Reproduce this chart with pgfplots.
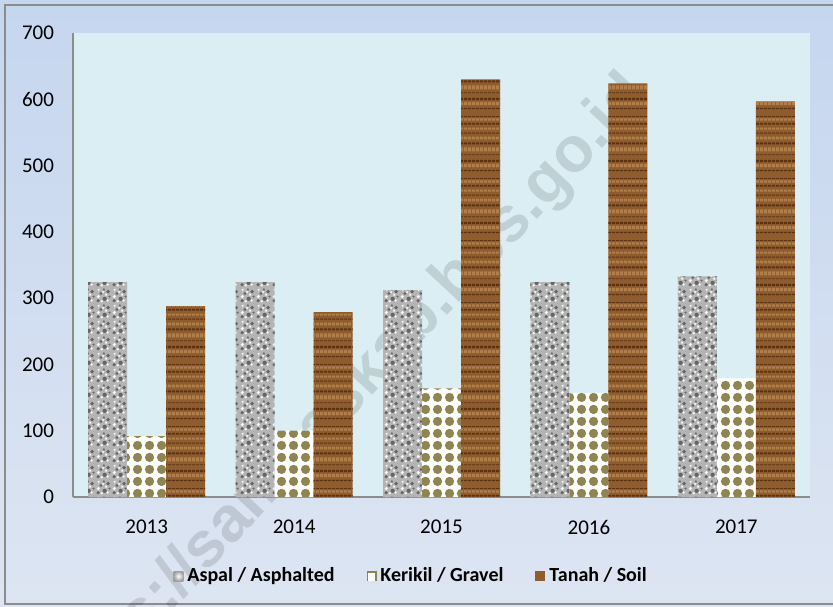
\documentclass[border=0pt]{standalone}
\usepackage{fontspec}
\setmainfont{Carlito}
\newfontfamily\wmfont{Liberation Sans}
\usepackage{pgfplots}
\usepackage{pgfplotstable}
\pgfplotsset{compat=1.18}
\usetikzlibrary{patterns}

\definecolor{plotbg}{HTML}{DAEEF3}
\definecolor{outtop}{HTML}{C5D6EF}
\definecolor{outbot}{HTML}{DDE5F2}
\definecolor{framegray}{HTML}{8C8C8C}
\definecolor{asph}{HTML}{B4B4B4}
\definecolor{asphdark}{HTML}{646464}
\definecolor{gravel}{HTML}{8E8552}
\definecolor{wood}{HTML}{8F5C2E}
\definecolor{wooddark}{HTML}{5A3212}
\definecolor{woodlight}{HTML}{B07E4A}

% textures
\pgfdeclarepatternformonly{asphdots}{\pgfqpoint{0pt}{0pt}}{\pgfqpoint{8pt}{8pt}}{\pgfqpoint{8pt}{8pt}}{
  \pgfpathcircle{\pgfqpoint{1.1pt}{1.2pt}}{0.9pt}
  \pgfpathcircle{\pgfqpoint{4.6pt}{2.2pt}}{1.1pt}
  \pgfpathcircle{\pgfqpoint{2.6pt}{5pt}}{0.8pt}
  \pgfpathcircle{\pgfqpoint{6.4pt}{6pt}}{1pt}
  \pgfpathcircle{\pgfqpoint{7.2pt}{3.4pt}}{0.6pt}
  \pgfpathcircle{\pgfqpoint{4.2pt}{7.2pt}}{0.6pt}
  \pgfusepath{fill}}
\pgfdeclarepatternformonly{asphlight}{\pgfqpoint{0pt}{0pt}}{\pgfqpoint{8pt}{8pt}}{\pgfqpoint{8pt}{8pt}}{
  \pgfpathcircle{\pgfqpoint{3pt}{0.9pt}}{0.7pt}
  \pgfpathcircle{\pgfqpoint{6.2pt}{1.3pt}}{0.7pt}
  \pgfpathcircle{\pgfqpoint{1.2pt}{3.4pt}}{0.9pt}
  \pgfpathcircle{\pgfqpoint{5.4pt}{4.4pt}}{0.7pt}
  \pgfpathcircle{\pgfqpoint{1.4pt}{7pt}}{0.6pt}
  \pgfpathcircle{\pgfqpoint{3.8pt}{5.8pt}}{0.6pt}
  \pgfusepath{fill}}
\pgfdeclarepatternformonly{gravelballs}{\pgfqpoint{0pt}{0pt}}{\pgfqpoint{6pt}{6pt}}{\pgfqpoint{6pt}{6pt}}{
  \pgfpathcircle{\pgfqpoint{3pt}{3pt}}{2.5pt}
  \pgfusepath{fill}}
\pgfdeclarepatternformonly{woodgrain}{\pgfqpoint{0pt}{0pt}}{\pgfqpoint{2pt}{31pt}}{\pgfqpoint{2pt}{31pt}}{
  \pgfpathrectangle{\pgfqpoint{0pt}{1pt}}{\pgfqpoint{2pt}{0.6pt}}
  \pgfpathrectangle{\pgfqpoint{0pt}{5.5pt}}{\pgfqpoint{2pt}{1.2pt}}
  \pgfpathrectangle{\pgfqpoint{0pt}{9pt}}{\pgfqpoint{2pt}{0.4pt}}
  \pgfpathrectangle{\pgfqpoint{0pt}{14.5pt}}{\pgfqpoint{2pt}{1pt}}
  \pgfpathrectangle{\pgfqpoint{0pt}{20pt}}{\pgfqpoint{2pt}{0.5pt}}
  \pgfpathrectangle{\pgfqpoint{0pt}{24.5pt}}{\pgfqpoint{2pt}{0.9pt}}
  \pgfpathrectangle{\pgfqpoint{0pt}{28.5pt}}{\pgfqpoint{2pt}{0.4pt}}
  \pgfusepath{fill}}
\pgfdeclarepatternformonly{woodlightgrain}{\pgfqpoint{0pt}{0pt}}{\pgfqpoint{2pt}{31pt}}{\pgfqpoint{2pt}{31pt}}{
  \pgfpathrectangle{\pgfqpoint{0pt}{3pt}}{\pgfqpoint{2pt}{1.6pt}}
  \pgfpathrectangle{\pgfqpoint{0pt}{11pt}}{\pgfqpoint{2pt}{2pt}}
  \pgfpathrectangle{\pgfqpoint{0pt}{17pt}}{\pgfqpoint{2pt}{1.4pt}}
  \pgfpathrectangle{\pgfqpoint{0pt}{22pt}}{\pgfqpoint{2pt}{1pt}}
  \pgfpathrectangle{\pgfqpoint{0pt}{26.5pt}}{\pgfqpoint{2pt}{1.2pt}}
  \pgfusepath{fill}}

\pgfplotstableread{
x aspal kerikil tanah
0 324 92  288
1 324 100 279
2 312 164 630
3 324 157 624
4 333 179 597
}\datatable

\begin{document}
\begin{tikzpicture}
% 1px = 0.5pt, axis box at origin
\useasboundingbox (-36.5pt,-54.5pt) rectangle (380pt,248.5pt);
\shade[top color=outtop, bottom color=outbot] (-36.5pt,-54.5pt) rectangle (380pt,248.5pt);
\draw[framegray, line width=0.8pt] (-34pt,-53.5pt) rectangle (382pt,246pt);
\fill[plotbg] (0pt,0pt) rectangle (368.5pt,232pt);
\begin{scope}
\clip (-36.5pt,-54.5pt) rectangle (380pt,248.5pt);
\node[rotate=47, anchor=base east, font=\wmfont\bfseries\fontsize{32}{32}\selectfont,
  text=black, opacity=0.12, inner sep=0pt] at (289pt,200pt) {https://sambaskab.bps.go.id};
\end{scope}
\begin{axis}[
    at={(0pt,0pt)}, anchor=south west,
    width=368.5pt, height=232pt, scale only axis,
    xmin=-0.5, xmax=4.5, ymin=0, ymax=700,
    ytick={0,100,...,700},
    xtick={0,1,2,3,4}, xticklabels={2013,2014,2015,2016,2017},
    axis x line=bottom, axis y line=left,
    axis line style={-, draw=framegray, line width=0.8pt},
    major tick length=0pt,
    tick label style={font=\fontsize{10.5}{12}\selectfont},
    /pgf/number format/assume math mode=true,
    yticklabel style={xshift=-6pt},
    xticklabel style={yshift=-8pt},
    legend columns=3,
    legend style={draw=none, fill=none, at={(0.1357,-0.1703)}, anchor=west,
      inner sep=0pt, font=\bfseries\fontsize{10}{12}\selectfont,
      /tikz/every even column/.append style={column sep=14pt}},
]
\addplot[ybar, forget plot, bar width=19.5pt, bar shift=-19.5pt, fill=asph, draw=none,
  postaction={pattern=asphdots, pattern color=asphdark},
  postaction={pattern=asphlight, pattern color=white!92!gray}]
  table[x=x, y=aspal]{\datatable};
\addplot[ybar, forget plot, bar width=19.5pt, bar shift=0pt, fill=white, draw=none,
  postaction={pattern=gravelballs, pattern color=gravel}]
  table[x=x, y=kerikil]{\datatable};
\addplot[ybar, forget plot, bar width=19.5pt, bar shift=19.5pt, fill=wood, draw=none,
  postaction={pattern=woodlightgrain, pattern color=woodlight},
  postaction={pattern=woodgrain, pattern color=wooddark}]
  table[x=x, y=tanah]{\datatable};

\addlegendimage{draw=none, legend image code/.code={\shade[draw=none, inner color=white, outer color=gray!75] (0pt,-2.5pt) rectangle (5pt,2.5pt);}}
\addlegendentry{Aspal / Asphalted}
\addlegendimage{draw=none, legend image code/.code={\fill[gravel] (0pt,-2.5pt) rectangle (5pt,2.5pt);
    \fill[white] (0.9pt,-2.5pt) rectangle (4.1pt,1.6pt);}}
\addlegendentry{Kerikil / Gravel}
\addlegendimage{draw=none, legend image code/.code={\fill[wood] (0pt,-2.5pt) rectangle (5pt,2.5pt);}}
\addlegendentry{Tanah / Soil}
\end{axis}
\end{tikzpicture}
\end{document}
